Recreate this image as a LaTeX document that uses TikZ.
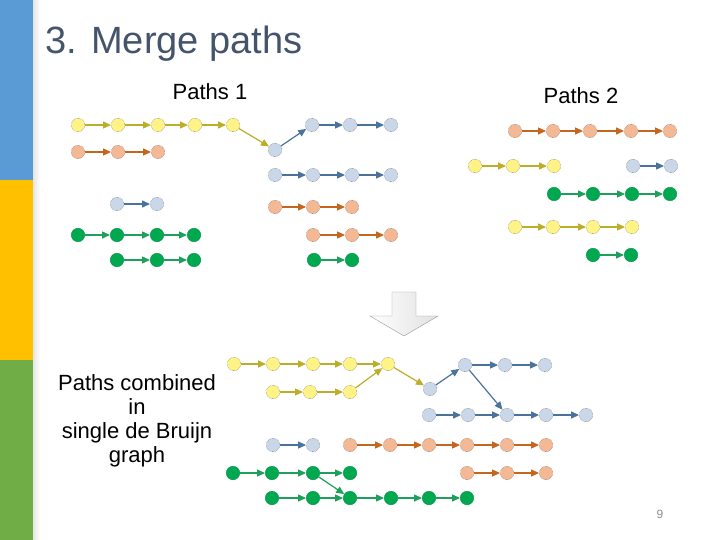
\documentclass[tikz,border=0pt]{standalone}
\usepackage{fontspec}
\setmainfont{Liberation Sans}
\usepackage{xcolor}
\usepackage{tikz}
\usetikzlibrary{arrows.meta}
\definecolor{barblue}{HTML}{5B9BD5}
\definecolor{baryellow}{HTML}{FFC000}
\definecolor{bargreen}{HTML}{70AD47}
\definecolor{titlegray}{HTML}{44546A}
\definecolor{yfill}{HTML}{FFF386}
\definecolor{yline}{HTML}{BDAE2A}
\definecolor{ofill}{HTML}{F4B994}
\definecolor{oline}{HTML}{C5651E}
\definecolor{bfill}{HTML}{C9D7E9}
\definecolor{bline}{HTML}{4A729A}
\definecolor{gfill}{HTML}{00A850}
\definecolor{gline}{HTML}{1F9F5C}

% one row of k-mer dots, then its links
\newcommand{\dotrow}[4]{\foreach \x [count=\i] in {#4} \node[#1] (#2\i) at (\x,#3) {};}
\newcommand{\linkrow}[3]{\foreach \i [count=\j from 2] in {1,...,#3} \draw[#1] (#2\i) -- (#2\j);}

\begin{document}
\begin{tikzpicture}[
    x=1pt,y=-1pt,
    dot/.style={circle,inner sep=0pt,minimum size=13.5pt},
    ydot/.style={dot,fill=yfill,draw=black!70,densely dotted,thin},
    odot/.style={dot,fill=ofill,draw=black!70,densely dotted,thin},
    bdot/.style={dot,fill=bfill,draw=black!70,densely dotted,thin},
    gdot/.style={dot,fill=gfill,draw=gfill!85!black,thin},
    link/.style={line width=1.2pt,-{Triangle[length=8pt,width=7pt]}},
    ylink/.style={link,draw=yline,fill=yline},
    olink/.style={link,draw=oline,fill=oline},
    blink/.style={link,draw=bline,fill=bline},
    glink/.style={link,draw=gline,fill=gline},
    label/.style={font=\fontsize{22}{24}\selectfont,align=center}
  ]
    \useasboundingbox (0,0) rectangle (720,540);
    % side bar
    \fill[barblue] (0,0) rectangle (33,180);
    \fill[baryellow] (0,180) rectangle (33,360);
    \fill[bargreen] (0,360) rectangle (33,540);
    \shade[left color=black!10,right color=white] (33,0) rectangle (40,540);

    \node[anchor=base west,text=titlegray,font=\fontsize{38}{42}\selectfont] (title) at (42,54) {3. Merge paths};
    \node[label,anchor=base] (lab1) at (210,100) {Paths 1};
    \node[label,anchor=base] (lab2) at (581,104) {Paths 2};
    \node[label] (lab3) at (137,421) {Paths combined\\in\\single de Bruijn\\graph};
    \node[text=black!45,font=\fontsize{12}{14}\selectfont] (page) at (660,514) {9};

    % Paths 1
    \dotrow{ydot}{pya}{125}{78,118,158,195,233}
    \dotrow{bdot}{pbx}{150}{275}
    \dotrow{bdot}{pba}{125}{312,350,391}
    \dotrow{odot}{poa}{152}{78,118,158}
    \dotrow{bdot}{pbb}{175}{275,313,352,391}
    \dotrow{bdot}{pbc}{204}{117,157}
    \dotrow{odot}{pob}{207}{275,313,352}
    \dotrow{gdot}{pga}{235}{78,117,157,194}
    \dotrow{odot}{poc}{235}{313,352,391}
    \dotrow{gdot}{pgb}{260}{117,157,194}
    \dotrow{gdot}{pgc}{260}{314,352}
    \linkrow{ylink}{pya}{4}
    \draw[ylink] (pya5) -- (pbx1);
    \draw[blink] (pbx1) -- (pba1);
    \linkrow{blink}{pba}{2}
    \linkrow{olink}{poa}{2}
    \linkrow{blink}{pbb}{3}
    \linkrow{blink}{pbc}{1}
    \linkrow{olink}{pob}{2}
    \linkrow{glink}{pga}{3}
    \linkrow{olink}{poc}{2}
    \linkrow{glink}{pgb}{2}
    \linkrow{glink}{pgc}{1}

    % Paths 2
    \dotrow{odot}{qoa}{131}{515,553,590,631,670}
    \dotrow{ydot}{qya}{166}{475,513,554}
    \dotrow{bdot}{qba}{166}{633,671}
    \dotrow{gdot}{qga}{194}{554,593,632,670}
    \dotrow{ydot}{qyb}{227}{515,553,593,632}
    \dotrow{gdot}{qgb}{255}{593,631}
    \linkrow{olink}{qoa}{4}
    \linkrow{ylink}{qya}{2}
    \linkrow{blink}{qba}{1}
    \linkrow{glink}{qga}{3}
    \linkrow{ylink}{qyb}{3}
    \linkrow{glink}{qgb}{1}

    % merge arrow
    \shade[left color=white,right color=black!12,draw=black!40]
      (392,292) -- (416,292) -- (416,316) -- (438,316) -- (404,336) -- (370,316) -- (392,316) -- cycle;

    % combined graph
    \dotrow{ydot}{rya}{364}{234,273,313,350,388}
    \dotrow{ydot}{ryb}{392}{273,310,350}
    \dotrow{bdot}{rbx}{389}{430}
    \dotrow{bdot}{rba}{365}{465,505,545}
    \dotrow{bdot}{rbb}{415}{429,468,507,546,586}
    \dotrow{bdot}{rbc}{445}{273,313}
    \dotrow{odot}{roa}{445}{350,390,429,467,507,546}
    \dotrow{odot}{rob}{473}{467,507,546}
    \dotrow{gdot}{rga}{473}{233,272,313,350}
    \dotrow{gdot}{rgb}{498}{272,313,350,391,429,467}
    \linkrow{ylink}{rya}{4}
    \linkrow{ylink}{ryb}{2}
    \draw[ylink] (ryb3) -- (rya5);
    \draw[ylink] (rya5) -- (rbx1);
    \draw[blink] (rbx1) -- (rba1);
    \linkrow{blink}{rba}{2}
    \linkrow{blink}{rbb}{4}
    \draw[blink] (rba1) -- (rbb3);
    \linkrow{blink}{rbc}{1}
    \linkrow{olink}{roa}{5}
    \linkrow{olink}{rob}{2}
    \linkrow{glink}{rga}{3}
    \linkrow{glink}{rgb}{5}
    \draw[glink] (rga3) -- (rgb3);
  \end{tikzpicture}
\end{document}
